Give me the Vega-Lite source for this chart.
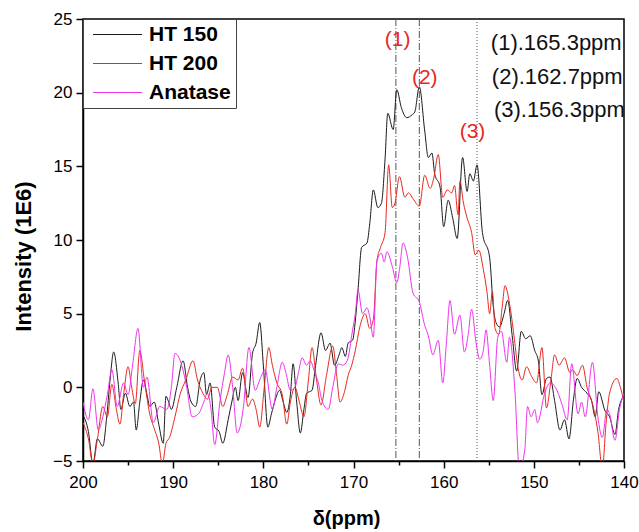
{
  "$schema": "https://vega.github.io/schema/vega-lite/v6.json",
  "width": 541,
  "height": 442,
  "autosize": {"type": "none"},
  "padding": {"left": 83, "top": 19, "right": 15, "bottom": 71},
  "background": "white",
  "config": {
    "view": {"stroke": "black", "strokeWidth": 1.5},
    "font": "Liberation Sans",
    "axis": {"grid": false, "domainColor": "black", "domainWidth": 1.5, "tickColor": "black", "tickWidth": 1.5, "labelColor": "black", "labelFontSize": 17, "labelFont": "Liberation Sans", "titleColor": "black", "titleFont": "Liberation Sans", "titleFontWeight": "bold"}
  },
  "datasets": {
    "spec": [
      {"s":"HT 150","x":200,"y":-1.9},{"s":"HT 150","x":199.4,"y":-3.0},{"s":"HT 150","x":198.9,"y":-5.2},{"s":"HT 150","x":198.4,"y":-3.5},{"s":"HT 150","x":197.8,"y":-4.0},{"s":"HT 150","x":197.4,"y":-2.2},{"s":"HT 150","x":197.0,"y":0.5},{"s":"HT 150","x":196.6,"y":2.4},{"s":"HT 150","x":196.1,"y":0.3},{"s":"HT 150","x":195.8,"y":-1.5},{"s":"HT 150","x":195.3,"y":-0.4},{"s":"HT 150","x":194.8,"y":-1.3},{"s":"HT 150","x":194.4,"y":-1.0},{"s":"HT 150","x":194.1,"y":-2.9},{"s":"HT 150","x":193.7,"y":-1.0},{"s":"HT 150","x":193.3,"y":0.5},{"s":"HT 150","x":192.9,"y":-0.5},{"s":"HT 150","x":192.6,"y":-1.3},{"s":"HT 150","x":192.1,"y":-1.0},{"s":"HT 150","x":191.6,"y":-2.5},{"s":"HT 150","x":191.1,"y":-3.8},{"s":"HT 150","x":190.8,"y":-0.6},{"s":"HT 150","x":190.5,"y":-1.0},{"s":"HT 150","x":190.2,"y":-1.5},{"s":"HT 150","x":189.6,"y":0.0},{"s":"HT 150","x":188.9,"y":1.8},{"s":"HT 150","x":188.4,"y":0.0},{"s":"HT 150","x":188.0,"y":-1.0},{"s":"HT 150","x":187.5,"y":-1.3},{"s":"HT 150","x":187.0,"y":0.5},{"s":"HT 150","x":186.6,"y":1.0},{"s":"HT 150","x":186.3,"y":-0.5},{"s":"HT 150","x":185.9,"y":0.3},{"s":"HT 150","x":185.4,"y":-2.7},{"s":"HT 150","x":184.9,"y":-3.0},{"s":"HT 150","x":184.5,"y":-3.8},{"s":"HT 150","x":183.9,"y":-2.2},{"s":"HT 150","x":183.5,"y":-1.0},{"s":"HT 150","x":183.1,"y":0.0},{"s":"HT 150","x":182.8,"y":-0.9},{"s":"HT 150","x":182.3,"y":1.0},{"s":"HT 150","x":181.7,"y":-0.7},{"s":"HT 150","x":181.2,"y":2.3},{"s":"HT 150","x":180.8,"y":3.0},{"s":"HT 150","x":180.4,"y":4.4},{"s":"HT 150","x":180.0,"y":1.5},{"s":"HT 150","x":179.5,"y":-2.7},{"s":"HT 150","x":179.1,"y":-1.8},{"s":"HT 150","x":178.7,"y":-0.9},{"s":"HT 150","x":178.2,"y":-0.2},{"s":"HT 150","x":177.8,"y":-1.0},{"s":"HT 150","x":177.4,"y":-1.7},{"s":"HT 150","x":177.0,"y":-0.5},{"s":"HT 150","x":176.7,"y":1.6},{"s":"HT 150","x":176.3,"y":-1.0},{"s":"HT 150","x":175.9,"y":-3.1},{"s":"HT 150","x":175.5,"y":-1.5},{"s":"HT 150","x":175.2,"y":-0.4},{"s":"HT 150","x":174.6,"y":-0.2},{"s":"HT 150","x":174.2,"y":1.5},{"s":"HT 150","x":173.6,"y":3.7},{"s":"HT 150","x":173.1,"y":2.5},{"s":"HT 150","x":172.6,"y":3.0},{"s":"HT 150","x":172.1,"y":1.5},{"s":"HT 150","x":171.6,"y":2.2},{"s":"HT 150","x":171.3,"y":2.7},{"s":"HT 150","x":170.9,"y":2.1},{"s":"HT 150","x":170.6,"y":3.0},{"s":"HT 150","x":170.1,"y":3.2},{"s":"HT 150","x":169.8,"y":4.5},{"s":"HT 150","x":169.5,"y":6.6},{"s":"HT 150","x":169.1,"y":9.5},{"s":"HT 150","x":168.5,"y":9.8},{"s":"HT 150","x":168.2,"y":11.1},{"s":"HT 150","x":167.8,"y":13.4},{"s":"HT 150","x":167.3,"y":12.2},{"s":"HT 150","x":166.9,"y":12.5},{"s":"HT 150","x":166.5,"y":15.5},{"s":"HT 150","x":166.2,"y":18.6},{"s":"HT 150","x":165.6,"y":17.5},{"s":"HT 150","x":165.2,"y":20.2},{"s":"HT 150","x":164.7,"y":19.0},{"s":"HT 150","x":164.1,"y":18.3},{"s":"HT 150","x":163.5,"y":18.5},{"s":"HT 150","x":163.2,"y":18.7},{"s":"HT 150","x":162.7,"y":20.4},{"s":"HT 150","x":162.1,"y":17.4},{"s":"HT 150","x":161.7,"y":15.6},{"s":"HT 150","x":161.3,"y":15.9},{"s":"HT 150","x":161.0,"y":14.5},{"s":"HT 150","x":160.4,"y":13.6},{"s":"HT 150","x":160.0,"y":10.9},{"s":"HT 150","x":159.5,"y":12.7},{"s":"HT 150","x":159.0,"y":11.5},{"s":"HT 150","x":158.5,"y":10.1},{"s":"HT 150","x":157.9,"y":15.6},{"s":"HT 150","x":157.4,"y":13.3},{"s":"HT 150","x":157.1,"y":14.5},{"s":"HT 150","x":156.7,"y":14.0},{"s":"HT 150","x":156.3,"y":15.1},{"s":"HT 150","x":155.7,"y":10.5},{"s":"HT 150","x":154.9,"y":8.8},{"s":"HT 150","x":154.5,"y":5.5},{"s":"HT 150","x":154.2,"y":4.4},{"s":"HT 150","x":153.8,"y":4.1},{"s":"HT 150","x":153.3,"y":5.0},{"s":"HT 150","x":152.9,"y":5.9},{"s":"HT 150","x":152.4,"y":3.5},{"s":"HT 150","x":151.9,"y":1.1},{"s":"HT 150","x":151.4,"y":3.8},{"s":"HT 150","x":150.9,"y":3.3},{"s":"HT 150","x":150.4,"y":3.5},{"s":"HT 150","x":149.9,"y":2.5},{"s":"HT 150","x":149.5,"y":1.8},{"s":"HT 150","x":149.1,"y":-0.5},{"s":"HT 150","x":148.6,"y":0.6},{"s":"HT 150","x":148.2,"y":0.7},{"s":"HT 150","x":147.7,"y":-0.9},{"s":"HT 150","x":147.1,"y":-2.9},{"s":"HT 150","x":146.6,"y":-2.2},{"s":"HT 150","x":146.1,"y":-3.5},{"s":"HT 150","x":145.6,"y":-0.8},{"s":"HT 150","x":145.2,"y":0.6},{"s":"HT 150","x":144.7,"y":0.0},{"s":"HT 150","x":144.1,"y":-0.4},{"s":"HT 150","x":143.6,"y":-0.9},{"s":"HT 150","x":143.2,"y":-2.0},{"s":"HT 150","x":142.8,"y":-0.3},{"s":"HT 150","x":142.1,"y":-1.6},{"s":"HT 150","x":141.6,"y":-2.0},{"s":"HT 150","x":141.0,"y":-3.2},{"s":"HT 150","x":140.6,"y":-1.5},{"s":"HT 150","x":140.0,"y":-0.6},
      {"s":"HT 200","x":200,"y":-2.4},{"s":"HT 200","x":199.4,"y":-3.5},{"s":"HT 200","x":198.9,"y":-5.2},{"s":"HT 200","x":198.4,"y":-3.5},{"s":"HT 200","x":197.8,"y":-1.3},{"s":"HT 200","x":197.3,"y":-2.0},{"s":"HT 200","x":196.8,"y":0.2},{"s":"HT 200","x":196.3,"y":-1.5},{"s":"HT 200","x":195.9,"y":-2.5},{"s":"HT 200","x":195.5,"y":-0.5},{"s":"HT 200","x":195.0,"y":1.4},{"s":"HT 200","x":194.6,"y":0.0},{"s":"HT 200","x":194.2,"y":-1.1},{"s":"HT 200","x":193.7,"y":2.5},{"s":"HT 200","x":193.2,"y":0.5},{"s":"HT 200","x":192.6,"y":-1.8},{"s":"HT 200","x":192.1,"y":-2.8},{"s":"HT 200","x":191.6,"y":-3.8},{"s":"HT 200","x":191.2,"y":-5.2},{"s":"HT 200","x":190.8,"y":-3.8},{"s":"HT 200","x":190.4,"y":-3.4},{"s":"HT 200","x":189.8,"y":-2.0},{"s":"HT 200","x":189.2,"y":-0.4},{"s":"HT 200","x":188.6,"y":0.5},{"s":"HT 200","x":187.8,"y":1.8},{"s":"HT 200","x":187.3,"y":0.5},{"s":"HT 200","x":186.7,"y":-0.4},{"s":"HT 200","x":186.2,"y":-0.8},{"s":"HT 200","x":185.7,"y":0.0},{"s":"HT 200","x":185.1,"y":0.0},{"s":"HT 200","x":184.5,"y":-1.3},{"s":"HT 200","x":184.0,"y":-0.5},{"s":"HT 200","x":183.4,"y":0.7},{"s":"HT 200","x":182.8,"y":0.5},{"s":"HT 200","x":182.3,"y":1.3},{"s":"HT 200","x":181.7,"y":-1.3},{"s":"HT 200","x":181.2,"y":-0.8},{"s":"HT 200","x":180.8,"y":-1.5},{"s":"HT 200","x":180.4,"y":-2.7},{"s":"HT 200","x":179.9,"y":0.0},{"s":"HT 200","x":179.4,"y":2.7},{"s":"HT 200","x":179.0,"y":1.5},{"s":"HT 200","x":178.5,"y":0.3},{"s":"HT 200","x":177.9,"y":-0.5},{"s":"HT 200","x":177.4,"y":-2.5},{"s":"HT 200","x":177.0,"y":-1.0},{"s":"HT 200","x":176.5,"y":0.0},{"s":"HT 200","x":176.0,"y":-1.0},{"s":"HT 200","x":175.5,"y":-2.0},{"s":"HT 200","x":175.0,"y":0.5},{"s":"HT 200","x":174.6,"y":2.7},{"s":"HT 200","x":174.1,"y":0.5},{"s":"HT 200","x":173.6,"y":-1.2},{"s":"HT 200","x":173.0,"y":0.8},{"s":"HT 200","x":172.3,"y":2.8},{"s":"HT 200","x":171.9,"y":1.0},{"s":"HT 200","x":171.5,"y":-1.0},{"s":"HT 200","x":171.0,"y":-0.3},{"s":"HT 200","x":170.6,"y":0.8},{"s":"HT 200","x":170.2,"y":1.5},{"s":"HT 200","x":169.8,"y":2.5},{"s":"HT 200","x":169.3,"y":4.1},{"s":"HT 200","x":168.7,"y":5.0},{"s":"HT 200","x":168.2,"y":4.0},{"s":"HT 200","x":167.8,"y":4.6},{"s":"HT 200","x":167.4,"y":8.6},{"s":"HT 200","x":167.0,"y":9.5},{"s":"HT 200","x":166.5,"y":10.5},{"s":"HT 200","x":166.1,"y":15.1},{"s":"HT 200","x":165.7,"y":12.2},{"s":"HT 200","x":165.4,"y":12.5},{"s":"HT 200","x":164.9,"y":14.3},{"s":"HT 200","x":164.3,"y":12.9},{"s":"HT 200","x":163.9,"y":13.2},{"s":"HT 200","x":163.4,"y":12.8},{"s":"HT 200","x":162.7,"y":12.3},{"s":"HT 200","x":162.1,"y":14.4},{"s":"HT 200","x":161.5,"y":13.5},{"s":"HT 200","x":161.1,"y":14.2},{"s":"HT 200","x":160.6,"y":15.8},{"s":"HT 200","x":160.1,"y":12.9},{"s":"HT 200","x":159.6,"y":13.4},{"s":"HT 200","x":159.1,"y":13.2},{"s":"HT 200","x":158.8,"y":13.7},{"s":"HT 200","x":158.4,"y":11.7},{"s":"HT 200","x":158.2,"y":14.0},{"s":"HT 200","x":157.8,"y":12.5},{"s":"HT 200","x":157.4,"y":11.5},{"s":"HT 200","x":156.9,"y":10.5},{"s":"HT 200","x":156.5,"y":9.0},{"s":"HT 200","x":156.1,"y":9.3},{"s":"HT 200","x":155.6,"y":8.0},{"s":"HT 200","x":155.2,"y":6.5},{"s":"HT 200","x":154.9,"y":5.0},{"s":"HT 200","x":154.6,"y":6.5},{"s":"HT 200","x":154.3,"y":4.0},{"s":"HT 200","x":153.9,"y":3.6},{"s":"HT 200","x":153.5,"y":5.5},{"s":"HT 200","x":153.2,"y":6.9},{"s":"HT 200","x":152.7,"y":5.7},{"s":"HT 200","x":152.2,"y":3.5},{"s":"HT 200","x":151.8,"y":1.5},{"s":"HT 200","x":151.3,"y":0.5},{"s":"HT 200","x":150.8,"y":1.4},{"s":"HT 200","x":150.3,"y":0.8},{"s":"HT 200","x":149.7,"y":0.3},{"s":"HT 200","x":149.1,"y":2.7},{"s":"HT 200","x":148.6,"y":-1.4},{"s":"HT 200","x":148.1,"y":0.5},{"s":"HT 200","x":147.7,"y":2.2},{"s":"HT 200","x":147.2,"y":1.5},{"s":"HT 200","x":146.6,"y":2.0},{"s":"HT 200","x":146.0,"y":1.0},{"s":"HT 200","x":145.7,"y":1.2},{"s":"HT 200","x":145.2,"y":0.8},{"s":"HT 200","x":144.6,"y":1.5},{"s":"HT 200","x":144.1,"y":0.0},{"s":"HT 200","x":143.5,"y":-1.1},{"s":"HT 200","x":142.9,"y":-3.0},{"s":"HT 200","x":142.4,"y":-5.5},{"s":"HT 200","x":142.0,"y":-2.5},{"s":"HT 200","x":141.6,"y":-0.4},{"s":"HT 200","x":140.8,"y":0.6},{"s":"HT 200","x":140.4,"y":0.0},{"s":"HT 200","x":140.0,"y":-1.0},
      {"s":"Anatase","x":200,"y":-1.0},{"s":"Anatase","x":199.4,"y":-2.2},{"s":"Anatase","x":198.9,"y":-0.1},{"s":"Anatase","x":198.3,"y":-2.9},{"s":"Anatase","x":197.8,"y":-2.0},{"s":"Anatase","x":197.3,"y":-0.5},{"s":"Anatase","x":196.8,"y":1.2},{"s":"Anatase","x":196.2,"y":-1.3},{"s":"Anatase","x":195.5,"y":0.3},{"s":"Anatase","x":195.0,"y":-0.5},{"s":"Anatase","x":194.5,"y":1.5},{"s":"Anatase","x":193.9,"y":4.0},{"s":"Anatase","x":193.3,"y":0.0},{"s":"Anatase","x":192.9,"y":0.7},{"s":"Anatase","x":192.2,"y":-2.4},{"s":"Anatase","x":191.5,"y":-1.3},{"s":"Anatase","x":190.7,"y":-1.5},{"s":"Anatase","x":190.2,"y":0.0},{"s":"Anatase","x":189.8,"y":2.3},{"s":"Anatase","x":189.0,"y":1.4},{"s":"Anatase","x":188.5,"y":0.0},{"s":"Anatase","x":187.9,"y":-2.0},{"s":"Anatase","x":187.2,"y":-1.8},{"s":"Anatase","x":186.6,"y":-1.0},{"s":"Anatase","x":186.2,"y":-0.4},{"s":"Anatase","x":185.8,"y":-1.5},{"s":"Anatase","x":185.4,"y":-3.9},{"s":"Anatase","x":184.8,"y":-0.9},{"s":"Anatase","x":184.3,"y":1.0},{"s":"Anatase","x":183.9,"y":2.2},{"s":"Anatase","x":183.4,"y":0.0},{"s":"Anatase","x":182.9,"y":-3.1},{"s":"Anatase","x":182.2,"y":-1.3},{"s":"Anatase","x":181.6,"y":2.7},{"s":"Anatase","x":180.9,"y":-0.2},{"s":"Anatase","x":180.4,"y":0.5},{"s":"Anatase","x":179.8,"y":1.2},{"s":"Anatase","x":179.0,"y":-1.5},{"s":"Anatase","x":178.5,"y":0.0},{"s":"Anatase","x":177.9,"y":1.7},{"s":"Anatase","x":177.5,"y":1.0},{"s":"Anatase","x":177.0,"y":-0.2},{"s":"Anatase","x":176.5,"y":0.0},{"s":"Anatase","x":176.1,"y":1.0},{"s":"Anatase","x":175.7,"y":2.0},{"s":"Anatase","x":175.2,"y":1.5},{"s":"Anatase","x":174.8,"y":1.8},{"s":"Anatase","x":174.3,"y":1.0},{"s":"Anatase","x":173.9,"y":0.3},{"s":"Anatase","x":173.5,"y":-0.9},{"s":"Anatase","x":172.8,"y":-1.5},{"s":"Anatase","x":172.3,"y":0.0},{"s":"Anatase","x":171.7,"y":1.6},{"s":"Anatase","x":171.2,"y":1.5},{"s":"Anatase","x":170.7,"y":1.8},{"s":"Anatase","x":170.1,"y":3.9},{"s":"Anatase","x":169.8,"y":5.0},{"s":"Anatase","x":169.5,"y":6.6},{"s":"Anatase","x":169.0,"y":5.0},{"s":"Anatase","x":168.5,"y":5.4},{"s":"Anatase","x":168.2,"y":4.8},{"s":"Anatase","x":167.8,"y":3.4},{"s":"Anatase","x":167.4,"y":8.6},{"s":"Anatase","x":166.9,"y":9.1},{"s":"Anatase","x":166.6,"y":8.5},{"s":"Anatase","x":166.3,"y":9.2},{"s":"Anatase","x":165.7,"y":8.2},{"s":"Anatase","x":165.2,"y":7.1},{"s":"Anatase","x":164.9,"y":8.0},{"s":"Anatase","x":164.5,"y":9.8},{"s":"Anatase","x":164.0,"y":8.8},{"s":"Anatase","x":163.4,"y":6.4},{"s":"Anatase","x":162.7,"y":5.8},{"s":"Anatase","x":162.1,"y":4.2},{"s":"Anatase","x":161.7,"y":3.5},{"s":"Anatase","x":161.2,"y":2.2},{"s":"Anatase","x":160.6,"y":3.2},{"s":"Anatase","x":160.1,"y":0.3},{"s":"Anatase","x":159.7,"y":3.0},{"s":"Anatase","x":159.3,"y":5.9},{"s":"Anatase","x":158.8,"y":3.6},{"s":"Anatase","x":158.2,"y":4.9},{"s":"Anatase","x":157.7,"y":2.4},{"s":"Anatase","x":157.3,"y":3.5},{"s":"Anatase","x":156.9,"y":5.3},{"s":"Anatase","x":156.4,"y":3.0},{"s":"Anatase","x":156.0,"y":1.9},{"s":"Anatase","x":155.6,"y":2.5},{"s":"Anatase","x":155.3,"y":3.9},{"s":"Anatase","x":154.9,"y":1.5},{"s":"Anatase","x":154.5,"y":-0.9},{"s":"Anatase","x":154.0,"y":3.4},{"s":"Anatase","x":153.6,"y":3.8},{"s":"Anatase","x":153.0,"y":1.7},{"s":"Anatase","x":152.7,"y":3.4},{"s":"Anatase","x":152.1,"y":-0.2},{"s":"Anatase","x":151.6,"y":-5.6},{"s":"Anatase","x":151.0,"y":-4.2},{"s":"Anatase","x":150.7,"y":-1.3},{"s":"Anatase","x":150.3,"y":-2.0},{"s":"Anatase","x":149.9,"y":-1.5},{"s":"Anatase","x":149.6,"y":-2.4},{"s":"Anatase","x":148.8,"y":-0.4},{"s":"Anatase","x":148.2,"y":0.3},{"s":"Anatase","x":147.6,"y":0.0},{"s":"Anatase","x":146.9,"y":-1.1},{"s":"Anatase","x":146.3,"y":-2.2},{"s":"Anatase","x":145.8,"y":1.6},{"s":"Anatase","x":145.1,"y":-1.8},{"s":"Anatase","x":144.7,"y":-1.0},{"s":"Anatase","x":144.3,"y":-2.0},{"s":"Anatase","x":143.5,"y":1.7},{"s":"Anatase","x":142.9,"y":-2.0},{"s":"Anatase","x":142.4,"y":-3.4},{"s":"Anatase","x":141.9,"y":-1.5},{"s":"Anatase","x":141.6,"y":-1.8},{"s":"Anatase","x":141.0,"y":-3.6},{"s":"Anatase","x":140.5,"y":-1.5},{"s":"Anatase","x":140.0,"y":-0.4}
    ],
    "peaks": [
      {"x": 165.3, "kind": "dashdot"},
      {"x": 162.7, "kind": "dashdot"},
      {"x": 156.3, "kind": "dot"}
    ],
    "marks": [
      {"x": 165.1, "y": 23.6, "label": "(1)"},
      {"x": 162.1, "y": 21.0, "label": "(2)"},
      {"x": 156.8, "y": 17.3, "label": "(3)"}
    ],
    "notes": [
      {"x": 154.77, "y": 23.37, "label": "(1).165.3ppm"},
      {"x": 154.66, "y": 21.06, "label": "(2).162.7ppm"},
      {"x": 154.43, "y": 18.82, "label": "(3).156.3ppm"}
    ]
  },
  "layer": [
    {
      "data": {"name": "peaks"},
      "mark": {"type": "rule", "color": "#555555", "strokeWidth": 1},
      "encoding": {
        "x": {"field": "x", "type": "quantitative", "scale": {"domain": [140, 200], "reverse": true, "nice": false}},
        "strokeDash": {"field": "kind", "type": "nominal", "scale": {"domain": ["dashdot", "dot"], "range": [[7, 2, 1, 2], [1, 2]]}, "legend": null}
      }
    },
    {
      "data": {"name": "spec"},
      "mark": {"type": "line", "strokeWidth": 1, "interpolate": "monotone", "clip": true},
      "encoding": {
        "x": {"field": "x", "type": "quantitative", "scale": {"domain": [140, 200], "reverse": true, "nice": false},
          "axis": {"title": "δ(ppm)", "titleFontSize": 20, "titleX": 263, "titleY": 57, "titleBaseline": "middle", "titleAlign": "center", "values": [140,145,150,155,160,165,170,175,180,185,190,195,200], "labelExpr": "datum.value % 10 === 0 ? datum.label : ''", "tickSize": {"condition": {"test": "datum.value % 10 === 0", "value": 7}, "value": 4}, "labelPadding": 6, "labelFlush": false}},
        "y": {"field": "y", "type": "quantitative", "scale": {"domain": [-5, 25], "nice": false},
          "axis": {"title": "Intensity (1E6)", "titleFontSize": 22, "titleX": -60, "titleY": 237, "titleAngle": -90, "titleBaseline": "middle", "titleAlign": "center", "values": [-5,-2.5,0,2.5,5,7.5,10,12.5,15,17.5,20,22.5,25], "labelExpr": "datum.value % 5 === 0 ? datum.label : ''", "tickSize": {"condition": {"test": "datum.value % 5 === 0", "value": 7}, "value": 4}, "labelPadding": 4}},
        "color": {"field": "s", "type": "nominal", "sort": ["HT 150", "HT 200", "Anatase"],
          "scale": {"domain": ["HT 150", "HT 200", "Anatase"], "range": ["#1a1a1a", "#e8281f", "#ee33ee"]},
          "legend": {"title": null, "orient": "none", "legendX": 0, "legendY": 0, "strokeColor": "#444444", "fillColor": "white", "padding": 5, "symbolType": "M-2.45,0H2.45", "symbolSize": 400, "symbolStrokeWidth": 1, "labelFontSize": 21, "labelFontWeight": "bold", "labelColor": "black", "labelFont": "Liberation Sans", "rowPadding": 7, "labelOffset": 21, "symbolOffset": 19}}
      }
    },
    {
      "data": {"name": "marks"},
      "mark": {"type": "text", "color": "#e8281f", "fontSize": 21, "font": "Liberation Sans", "align": "center", "baseline": "middle"},
      "encoding": {
        "x": {"field": "x", "type": "quantitative"},
        "y": {"field": "y", "type": "quantitative"},
        "text": {"field": "label"}
      }
    },
    {
      "data": {"name": "notes"},
      "mark": {"type": "text", "color": "#111111", "fontSize": 22, "font": "Liberation Sans", "align": "left", "baseline": "middle"},
      "encoding": {
        "x": {"field": "x", "type": "quantitative"},
        "y": {"field": "y", "type": "quantitative"},
        "text": {"field": "label"}
      }
    }
  ]
}
